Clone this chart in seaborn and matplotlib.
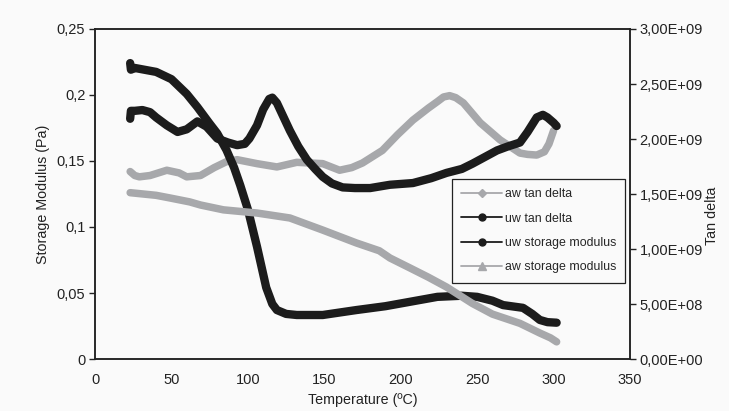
import matplotlib
matplotlib.use("Agg")
import matplotlib.pyplot as plt
from matplotlib.ticker import FuncFormatter, MultipleLocator
from matplotlib.lines import Line2D
import seaborn as sns
import pandas as pd

# ---- data ----
uw_sm_temp = [23, 23.5, 26, 40, 50, 60, 67, 75, 80, 86, 91, 95, 100, 106, 112, 116, 119, 125,
              132, 149, 171, 190, 204, 224, 240, 250, 260, 267, 280, 286, 291, 296, 302]
uw_sm_val = [2.69e9, 2.63e9, 2.646e9, 2.61e9, 2.544e9, 2.41e9, 2.29e9, 2.14e9, 2.05e9, 1.90e9,
             1.74e9, 1.58e9, 1.36e9, 1.02e9, 6.5e8, 5.0e8, 4.45e8, 4.1e8, 4.0e8, 4.0e8, 4.45e8,
             4.8e8, 5.15e8, 5.65e8, 5.75e8, 5.65e8, 5.3e8, 4.9e8, 4.65e8, 4.1e8, 3.55e8, 3.35e8, 3.3e8]

aw_sm_temp = [23, 40, 49, 62, 69, 84, 106, 127.5, 149, 171, 186, 193, 206, 218, 230, 247, 260,
              278, 291, 298, 302]
aw_sm_val = [1.512e9, 1.488e9, 1.464e9, 1.428e9, 1.40e9, 1.356e9, 1.327e9, 1.282e9, 1.172e9,
             1.055e9, 9.84e8, 9.18e8, 8.28e8, 7.44e8, 6.54e8, 5.04e8, 4.08e8, 3.24e8, 2.36e8,
             1.92e8, 1.56e8]

uw_td_temp = [23, 23.5, 26, 31, 36, 40, 47, 54, 60, 67, 73, 80, 87, 93, 98, 101, 106, 110, 114,
              116, 119, 127.5, 133, 138.6, 144, 149, 155, 162, 170, 180, 193, 208, 220, 230, 240,
              247, 255, 263, 270, 278, 283, 289, 293, 296, 300, 302]
uw_td_val = [0.182, 0.188, 0.188, 0.1886, 0.187, 0.183, 0.177, 0.172, 0.174, 0.18, 0.176, 0.167,
             0.164, 0.162, 0.163, 0.167, 0.177, 0.189, 0.197, 0.198, 0.194, 0.173, 0.161, 0.151,
             0.144, 0.138, 0.133, 0.130, 0.1295, 0.1295, 0.132, 0.1333, 0.137, 0.141, 0.144,
             0.148, 0.153, 0.158, 0.161, 0.164, 0.172, 0.183, 0.185, 0.183, 0.179, 0.1765]

aw_td_temp = [23, 26, 29, 36, 47, 55, 60, 69, 78, 86, 93, 106, 119, 132, 149, 160, 168, 175, 188,
              198, 208, 218, 224, 228, 232, 236, 241, 252, 265, 278, 283, 289, 294, 297, 300]
aw_td_val = [0.142, 0.139, 0.138, 0.139, 0.143, 0.141, 0.138, 0.139, 0.145, 0.1495, 0.151, 0.148,
             0.1455, 0.149, 0.148, 0.143, 0.145, 0.1485, 0.158, 0.170, 0.181, 0.190, 0.195,
             0.1985, 0.1995, 0.198, 0.194, 0.179, 0.166, 0.156, 0.155, 0.1545, 0.157, 0.163, 0.173]

series_labels = ["aw tan delta", "uw tan delta", "uw storage modulus", "aw storage modulus"]
x_label = "Temperature (ºC)"
y_left_label = "Storage Modulus (Pa)"
y_right_label = "Tan delta"

# ---- styling ----
sns.set_theme(style="white")
plt.rcParams["font.family"] = ["Liberation Sans", "DejaVu Sans"]
plt.rcParams["font.size"] = 10

BLACK = "#1c1c1c"
GRAY = "#a7a8ab"
TXT = "#222222"

fig = plt.figure(figsize=(7.29, 4.11), dpi=100)
fig.patch.set_facecolor("#fafafa")
ax = fig.add_axes([95 / 729, 1 - 359 / 411, (630 - 95) / 729, (359 - 29) / 411])
ax.set_facecolor("#fafafa")
ax2 = ax.twinx()

df_aw_td = pd.DataFrame({"t": aw_td_temp, "v": aw_td_val})
df_uw_td = pd.DataFrame({"t": uw_td_temp, "v": uw_td_val})
df_uw_sm = pd.DataFrame({"t": uw_sm_temp, "v": uw_sm_val})
df_aw_sm = pd.DataFrame({"t": aw_sm_temp, "v": aw_sm_val})

kw = dict(solid_capstyle="round", solid_joinstyle="round", sort=False,
          estimator=None, legend=False)
sns.lineplot(data=df_aw_td, x="t", y="v", ax=ax, color=GRAY, linewidth=5.4, zorder=2, **kw)
sns.lineplot(data=df_uw_td, x="t", y="v", ax=ax, color=BLACK, linewidth=6.0, zorder=3, **kw)
sns.lineplot(data=df_uw_sm, x="t", y="v", ax=ax2, color=BLACK, linewidth=6.0, zorder=3, **kw)
sns.lineplot(data=df_aw_sm, x="t", y="v", ax=ax2, color=GRAY, linewidth=5.4, zorder=4, **kw)

ax.set_xlim(0, 350)
ax.set_ylim(0, 0.25)
ax2.set_ylim(0, 3e9)
ax.xaxis.set_major_locator(MultipleLocator(50))
ax.yaxis.set_major_locator(MultipleLocator(0.05))
ax2.yaxis.set_major_locator(MultipleLocator(5e8))

def left_fmt(v, pos):
    s = ("%.2f" % v).rstrip("0").rstrip(".")
    return s.replace(".", ",")

def right_fmt(v, pos):
    s = "%.2E" % v
    return s.replace(".", ",")

ax.yaxis.set_major_formatter(FuncFormatter(left_fmt))
ax2.yaxis.set_major_formatter(FuncFormatter(right_fmt))

for a in (ax, ax2):
    for sp in a.spines.values():
        sp.set_color(TXT)
        sp.set_linewidth(1.1)
    a.tick_params(axis="both", which="major", direction="out", length=4, width=1,
                  color=TXT, labelsize=10.5, labelcolor=TXT, pad=3)
ax.tick_params(axis="x", pad=6)

ax.set_xlabel(x_label, fontsize=10.3, color=TXT)
ax.xaxis.set_label_coords(0.5, -(393 - 359) / 330)
ax.set_ylabel(y_left_label, fontsize=10.3, color=TXT)
ax.yaxis.set_label_coords(-(95 - 50) / 535, 0.5)
ax2.set_ylabel(y_right_label, fontsize=10.3, color=TXT)
ax2.yaxis.set_label_coords((705 - 95) / 535, (359 - 216) / 330)

handles = [
    Line2D([0], [0], color=GRAY, lw=1.3, marker="D", markersize=4, markerfacecolor=GRAY,
           markeredgecolor=GRAY),
    Line2D([0], [0], color=BLACK, lw=1.3, marker="o", markersize=5, markerfacecolor=BLACK,
           markeredgecolor=BLACK),
    Line2D([0], [0], color=BLACK, lw=1.3, marker="o", markersize=5, markerfacecolor=BLACK,
           markeredgecolor=BLACK),
    Line2D([0], [0], color=GRAY, lw=1.3, marker="^", markersize=5.5, markerfacecolor=GRAY,
           markeredgecolor=GRAY),
]
leg = ax2.legend(handles, series_labels, loc="upper left",
                 bbox_to_anchor=((452 - 95) / 535, 1 - (179 - 29) / 330),
                 frameon=True, fancybox=False, framealpha=1, edgecolor=TXT,
                 fontsize=8.9, handlelength=3.3, handletextpad=0.2, labelspacing=1.0,
                 borderpad=0.75, borderaxespad=0)
leg.get_frame().set_linewidth(0.9)
leg.get_frame().set_facecolor("#fafafa")

fig.savefig("out.png", dpi=100, facecolor=fig.get_facecolor())
